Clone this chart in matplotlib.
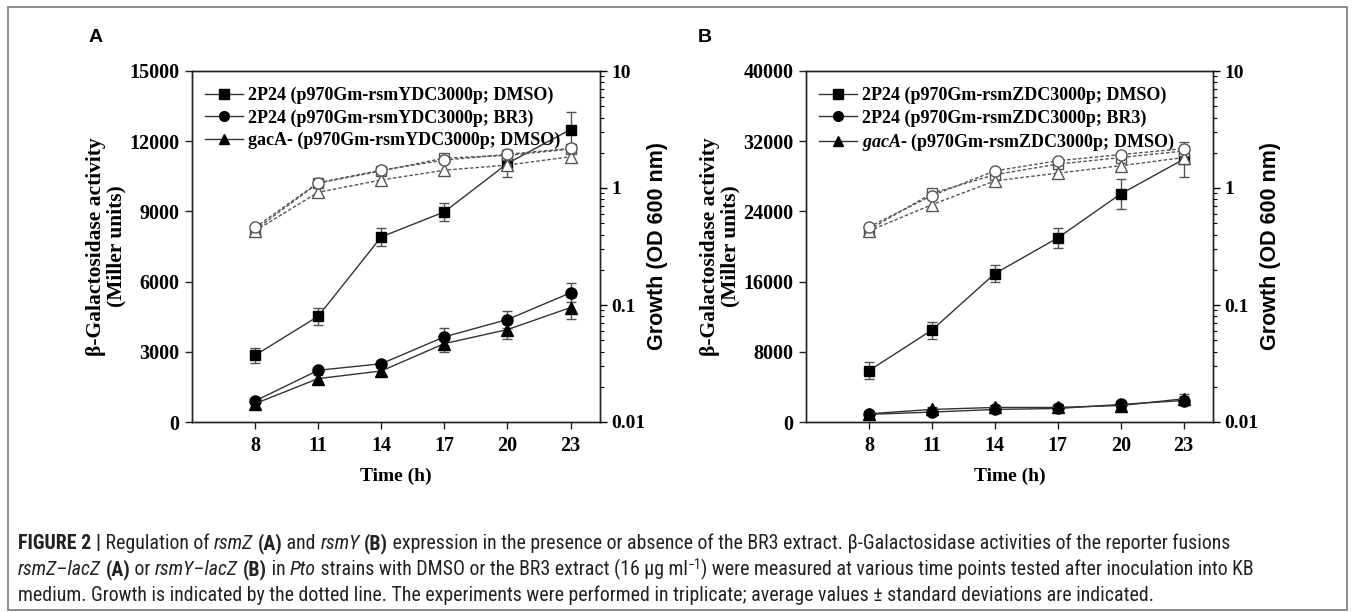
import matplotlib
matplotlib.use("Agg")
import matplotlib.pyplot as plt
import numpy as np
from matplotlib import font_manager
from matplotlib.patches import Rectangle
from matplotlib.ticker import LogLocator, NullFormatter, FixedLocator

# ---------------- data ----------------
time_h = [8, 11, 14, 17, 20, 23]

# Panel A (rsmY)
a_labels = ["2P24 (p970Gm-rsmYDC3000p; DMSO)",
            "2P24 (p970Gm-rsmYDC3000p; BR3)",
            "gacA- (p970Gm-rsmYDC3000p; DMSO)"]
a_sq = [2850, 4520, 7910, 8980, 11050, 12500]
a_sq_err = [330, 360, 385, 400, 570, 760]
a_ci = [900, 2210, 2490, 3640, 4380, 5520]
a_ci_err = [100, 100, 100, 390, 355, 400]
a_tr = [785, 1855, 2180, 3350, 3950, 4890]
a_tr_err = [200, 150, 130, 360, 385, 470]
a_g_sq = [0.44, 1.10, 1.40, 1.80, 1.90, 2.15]
a_g_ci = [0.46, 1.11, 1.42, 1.73, 1.94, 2.18]
a_g_tr = [0.43, 0.92, 1.17, 1.42, 1.57, 1.85]

# Panel B (rsmZ)
b_labels = ["2P24 (p970Gm-rsmZDC3000p; DMSO)",
            "2P24 (p970Gm-rsmZDC3000p; BR3)",
            "gacA- (p970Gm-rsmZDC3000p; DMSO)"]
b_sq = [5850, 10470, 16910, 20980, 25990, 29940]
b_sq_err = [940, 980, 980, 1170, 1730, 1980]
b_ci = [870, 1130, 1430, 1540, 2000, 2450]
b_ci_err = [250, 300, 300, 350, 450, 500]
b_tr = [940, 1430, 1660, 1660, 1880, 2640]
b_tr_err = [250, 300, 300, 350, 450, 500]
b_g_sq = [0.44, 0.90, 1.30, 1.60, 1.82, 2.07]
b_g_ci = [0.465, 0.86, 1.40, 1.71, 1.93, 2.17]
b_g_tr = [0.43, 0.72, 1.15, 1.34, 1.55, 1.82]

a_yticks = [0, 3000, 6000, 9000, 12000, 15000]
b_yticks = [0, 8000, 16000, 24000, 32000, 40000]
g_ticks = [0.01, 0.1, 1, 10]
g_ticklabels = ["0.01", "0.1", "1", "10"]

# ---------------- fonts ----------------
avail = {f.name for f in font_manager.fontManager.ttflist}
serif = "Liberation Serif" if "Liberation Serif" in avail else "DejaVu Serif"
sans = "Liberation Sans" if "Liberation Sans" in avail else "DejaVu Sans"
narrow = sans
for cand in ["Liberation Sans Narrow", "Roboto Condensed", "Open Sans Condensed"]:
    if cand in avail:
        narrow = cand
        break

plt.rcParams["mathtext.fontset"] = "custom"
plt.rcParams["mathtext.it"] = serif + ":italic:bold"
plt.rcParams["mathtext.rm"] = serif + ":bold"

W, H = 1355, 612
fig = plt.figure(figsize=(W / 100, H / 100), dpi=100)
fig.patch.set_facecolor("white")


def fx(px):
    return px / W


def fy(py):
    return 1 - py / H


# outer frame
fig.add_artist(Rectangle((fx(8), fy(610)), (1347 - 8) / W, (610 - 7) / H,
                         transform=fig.transFigure, fill=False, ec="#7a7a7a", lw=1.2))


def make_panel(left, right, yticks, sq, sqe, ci, cie, tr, tre, gsq, gci, gtr, labels, italic_gac, letter, letter_x):
    ax = fig.add_axes([fx(left), fy(422), (right - left) / W, (422 - 71) / H])
    ax.set_xlim(5, 24.4)
    ax.set_ylim(yticks[0], yticks[-1])
    ax.set_xticks(time_h)
    ax.set_yticks(yticks)
    for sp in ax.spines.values():
        sp.set_linewidth(1.0)
        sp.set_color("#222222")
    ax.tick_params(axis="both", direction="out", length=5, width=1.0, color="#222222",
                   labelsize=14.5, pad=4)
    ax.tick_params(axis="x", top=False, pad=5)
    ax.tick_params(axis="y", right=False)
    for lab in ax.get_xticklabels() + ax.get_yticklabels():
        lab.set_fontfamily(serif)
        lab.set_fontweight("bold")

    ekw = dict(ecolor="#555555", elinewidth=1.0, capsize=3.5, capthick=1.0, color="#333333",
               lw=1.0, zorder=4)
    ax.errorbar(time_h, sq, yerr=sqe, marker="s", ms=7, mfc="black", mec="black", **ekw)
    ax.errorbar(time_h, ci, yerr=cie, marker="o", ms=8, mfc="black", mec="black", **ekw)
    ax.errorbar(time_h, tr, yerr=tre, marker="^", ms=8, mfc="black", mec="black", **ekw)

    h1, = ax.plot([], [], color="#333333", lw=1.0, marker="s", ms=7, mfc="black", mec="black")
    h2, = ax.plot([], [], color="#333333", lw=1.0, marker="o", ms=7, mfc="black", mec="black")
    h3, = ax.plot([], [], color="#333333", lw=1.0, marker="^", ms=7, mfc="black", mec="black")
    if italic_gac:
        lab3 = r"$\mathit{gacA}$" + labels[2][4:]
    else:
        lab3 = labels[2]
    ax.legend([h1, h2, h3], [labels[0], labels[1], lab3], loc="upper left",
              bbox_to_anchor=(0.005, 0.985), frameon=False, handlelength=2.1,
              handletextpad=0.3, labelspacing=0.28, borderaxespad=0.2,
              prop=dict(family=serif, weight="bold", size=13))

    ax2 = ax.twinx()
    ax2.set_yscale("log")
    ax2.set_ylim(0.01, 10)
    ax2.yaxis.set_major_locator(FixedLocator(g_ticks))
    ax2.set_yticklabels(g_ticklabels)
    ax2.yaxis.set_minor_locator(LogLocator(base=10, subs=np.arange(2, 10), numticks=20))
    ax2.yaxis.set_minor_formatter(NullFormatter())
    ax2.tick_params(axis="y", which="major", direction="out", length=5, width=1.0, labelsize=14, pad=3)
    ax2.tick_params(axis="y", which="minor", direction="out", length=3, width=0.8)
    for lab in ax2.get_yticklabels():
        lab.set_fontfamily(serif)
        lab.set_fontweight("bold")
    for sp in ax2.spines.values():
        sp.set_linewidth(1.0)
        sp.set_color("#222222")

    gkw = dict(color="#555555", lw=1.0, ls=(0, (2.5, 1.5)), mfc="white", mec="#555555", mew=1.0, zorder=3)
    ax2.plot(time_h, gsq, marker="s", ms=7, **gkw)
    ax2.plot(time_h, gtr, marker="^", ms=9, **gkw)
    ax2.plot(time_h, gci, marker="o", ms=8, **gkw)

    ax.set_ylabel("β-Galactosidase activity\n(Miller units)", family=serif, weight="bold",
                  size=15.5, linespacing=1.05, labelpad=2)
    ax2.set_ylabel("Growth (OD 600 nm)", family=sans, weight="bold", size=15.5, labelpad=1)

    cx = (left + right) / 2
    fig.text(fx(cx), fy(476), "Time (h)", family=serif, weight="bold", size=14, ha="center", va="center")
    fig.text(fx(letter_x), fy(38), letter, family=sans, weight="bold", size=14, ha="center", va="center")
    return ax, ax2


make_panel(192, 600, a_yticks, a_sq, a_sq_err, a_ci, a_ci_err, a_tr, a_tr_err,
           a_g_sq, a_g_ci, a_g_tr, a_labels, False, "A", 96)
make_panel(806, 1213, b_yticks, b_sq, b_sq_err, b_ci, b_ci_err, b_tr, b_tr_err,
           b_g_sq, b_g_ci, b_g_tr, b_labels, True, "B", 705)

# ---------------- caption ----------------
caption = [
    [("FIGURE 2 |", "bold"), (" Regulation of ", "normal"), ("rsmZ", "italic"), (" ", "normal"),
     ("(A)", "bold"), (" and ", "normal"), ("rsmY", "italic"), (" ", "normal"), ("(B)", "bold"),
     (" expression in the presence or absence of the BR3 extract. β-Galactosidase activities of the reporter fusions", "normal")],
    [("rsmZ–lacZ", "italic"), (" ", "normal"), ("(A)", "bold"), (" or ", "normal"), ("rsmY–lacZ", "italic"),
     (" ", "normal"), ("(B)", "bold"), (" in ", "normal"), ("Pto", "italic"),
     (" strains with DMSO or the BR3 extract (16 μg ml", "normal"), ("−1", "sup"),
     (") were measured at various time points tested after inoculation into KB", "normal")],
    [("medium. Growth is indicated by the dotted line. The experiments were performed in triplicate; average values ± standard deviations are indicated.", "normal")],
]
cap_y = [549, 575, 601]
renderer = fig.canvas.get_renderer()


def piece_kw(style, size):
    kw = dict(family=[narrow, "DejaVu Sans"], size=size, color="#222222")
    if style == "bold":
        kw["weight"] = "bold"
    elif style == "italic":
        kw["style"] = "italic"
    elif style == "sup":
        kw["size"] = size * 0.7
    return kw


def line_width(pieces, size):
    total = 0
    for txt, st in pieces:
        t = fig.text(0, 0, txt, **piece_kw(st, size))
        total += t.get_window_extent(renderer).width
        t.remove()
    return total


base = 12.0
w1 = line_width(caption[0], base)
cap_size = base * (1232 - 18) / w1

for pieces, yy in zip(caption, cap_y):
    x = 18
    for txt, st in pieces:
        dy = -6 if st == "sup" else 0
        t = fig.text(fx(x), fy(yy + dy), txt, ha="left", va="baseline", **piece_kw(st, cap_size))
        x += t.get_window_extent(renderer).width

fig.savefig("out.png", dpi=100, facecolor="white")
